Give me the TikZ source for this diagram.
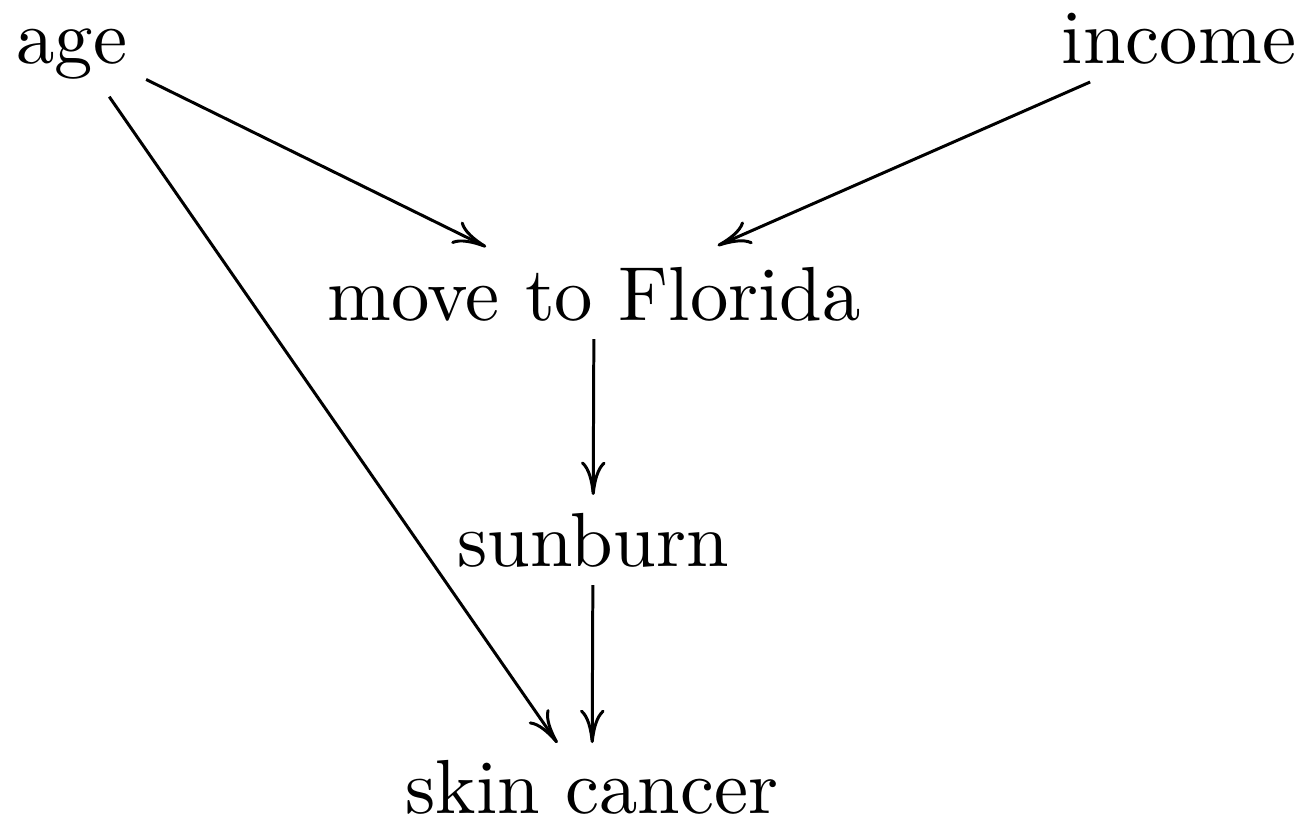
\documentclass[tikz,border=0pt]{standalone}
\usetikzlibrary{arrows.meta}
% Latin Modern at its 10pt design size, scaled up
\font\dagrm="[lmroman10-regular]:mapping=tex-text" at 21.8pt
\newcommand\dagfont{\dagrm}
\begin{document}
\begin{tikzpicture}[x=0.01cm,y=-0.01cm,
  var/.style={font=\dagfont, anchor=base, inner sep=0pt, outer sep=0pt,
              text height=12pt, text depth=0.6pt},
  causes/.style={line width=0.85pt, -{To[length=9.5pt,width=7pt]}}]
  \useasboundingbox (0,0) rectangle (1306,820);

  % variables
  \node[var] (age)     at (72,63)    {age};
  \node[var] (income)  at (1179,63)  {income};
  \node[var] (move)    at (594,320)  {move to Florida};
  \node[var] (sunburn) at (593,566)  {sunburn};
  \node[var] (skin)    at (592,813)  {skin cancer};

  % causal arrows
  \draw[causes, shorten <=23.5pt, shorten >=34.2pt] (age.center) -- (move.center);
  \draw[causes, shorten <=27.6pt, shorten >=38.4pt] (income.center) -- (move.center);
  \draw[causes, shorten <=18.6pt, shorten >=17.3pt] (age.center) -- (skin.center);
  \draw[causes, shorten <=11.1pt, shorten >=14.5pt] (move.center) -- (sunburn.center);
  \draw[causes, shorten <=11.1pt, shorten >=14.2pt] (sunburn.center) -- (skin.center);
\end{tikzpicture}
\end{document}
